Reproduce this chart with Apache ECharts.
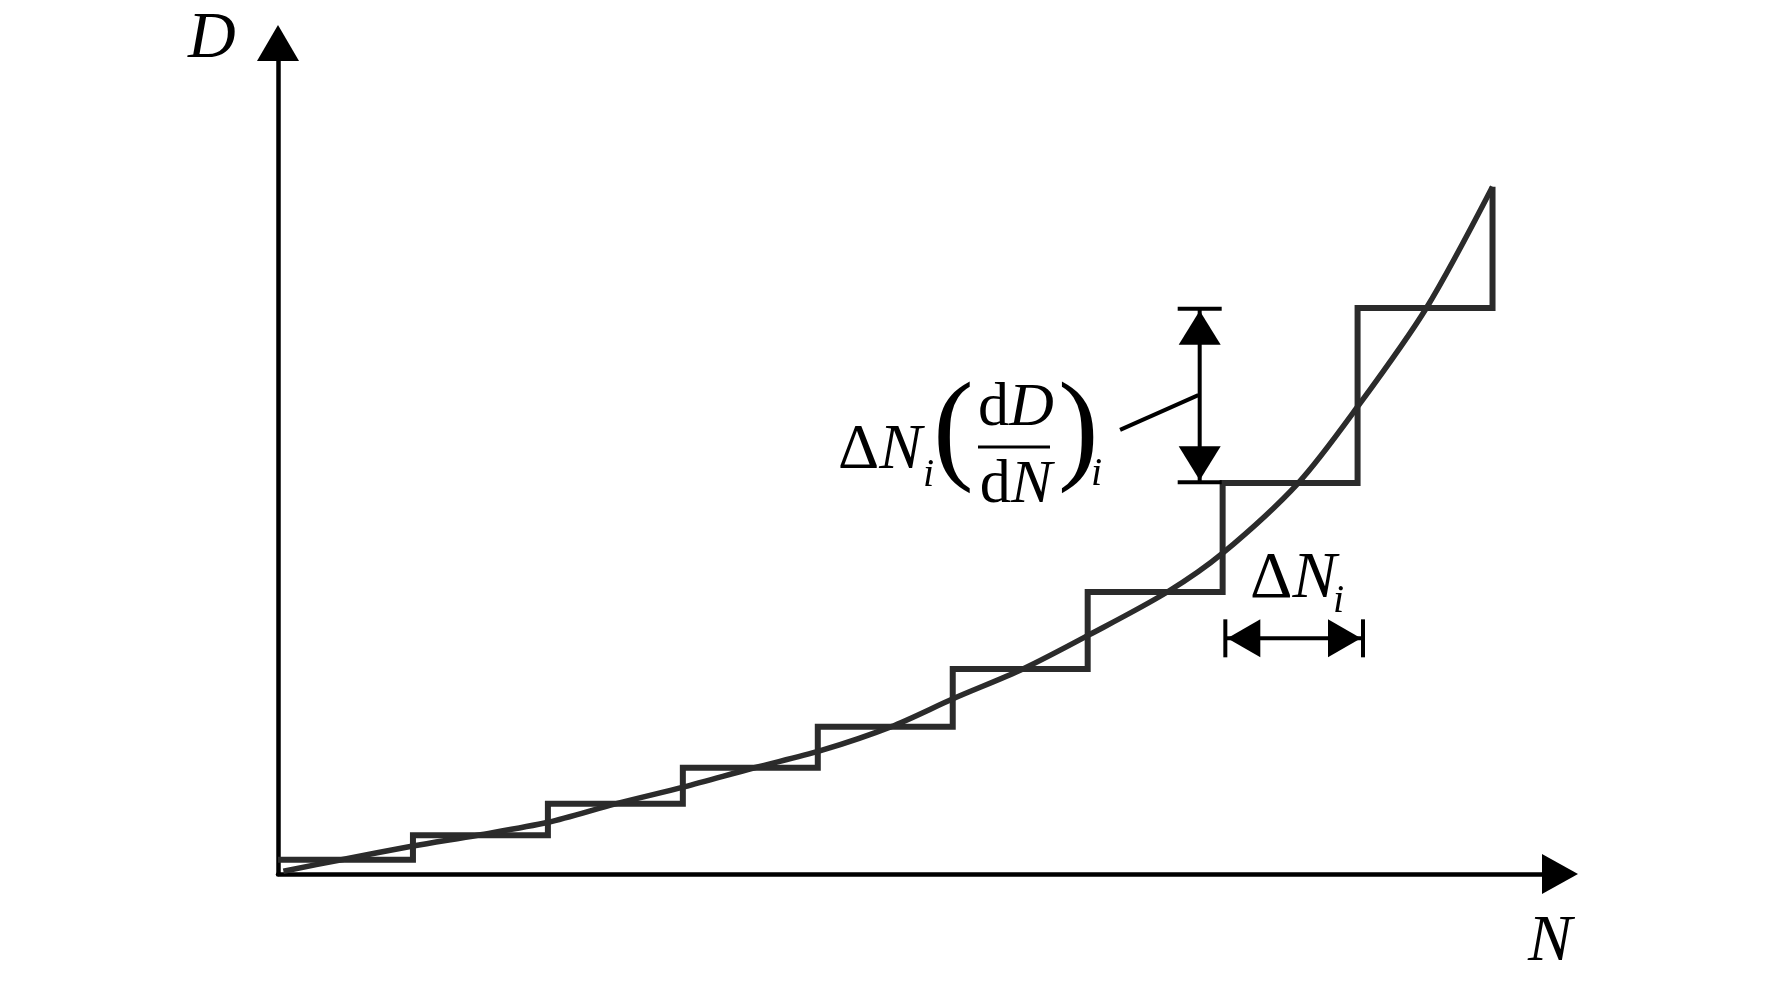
<!DOCTYPE html>
<html>
<head>
<meta charset="utf-8">
<script src="https://cdn.jsdelivr.net/npm/echarts@6/dist/echarts.min.js"></script>
<style>
  html, body { margin: 0; padding: 0; background: #fff; }
  #main { width: 1772px; height: 992px; }
</style>
</head>
<body>
<div id="main"></div>
<script>
// staircase: D held constant over each block of cycles ΔN_i
var stepN = [0, 1, 2, 3, 4, 5, 6, 7, 8, 9];
var stepD = [0.21, 0.57, 1.03, 1.56, 2.16, 3.01, 4.14, 5.74, 8.31, 10.09];

// continuous D(N) curve
var curveN = [0.04, 0.47, 1.0, 1.48, 2.0, 2.5, 3.01, 3.53, 4.02, 4.54, 5.01, 5.52, 6.01, 6.59, 7.0, 7.56, 8.0, 8.51, 9.0];
var curveD = [0.04, 0.21, 0.41, 0.57, 0.76, 1.03, 1.28, 1.56, 1.81, 2.16, 2.58, 3.01, 3.51, 4.14, 4.71, 5.74, 6.86, 8.31, 10.09];

// annotation segments [N1, D1, N2, D2]
var dimDelta = [6.83, 8.30, 6.83, 5.75];   // vertical ΔN_i(dD/dN)_i
var dimStep = [7.02, 3.46, 8.04, 3.46];    // horizontal ΔN_i
var leader = [6.24, 6.52, 6.82, 7.03];

var axisMaxN = 9.5;
var axisMaxD = 12.2;

var serif = '"Liberation Serif", "Times New Roman", serif';
var ink = '#2b2b2b';

var myChart = echarts.init(document.getElementById('main'));

function zip(a, b) {
  return a.map(function (v, i) { return [v, b[i]]; });
}

// arrows / bars drawn in pixel space from data coords
function renderAnno(params, api) {
  var kind = api.value(4);
  var p1 = api.coord([api.value(0), api.value(1)]);
  var p2 = api.coord([api.value(2), api.value(3)]);
  var st = { stroke: '#000', lineWidth: 4 };
  var kids = [{ type: 'line', shape: { x1: p1[0], y1: p1[1], x2: p2[0], y2: p2[1] }, style: st }];
  if (kind === 0) return { type: 'group', children: kids };

  var dx = p2[0] - p1[0], dy = p2[1] - p1[1];
  var len = Math.sqrt(dx * dx + dy * dy);
  var ux = dx / len, uy = dy / len, px = -uy, py = ux;
  var headL = kind === 1 ? 34 : 33;
  var headW = kind === 1 ? 21 : 19;
  var barW = kind === 1 ? 22 : 19;

  [[p1, 1], [p2, -1]].forEach(function (e) {
    var p = e[0], s = e[1];
    var tip = [p[0] + ux * s * 2, p[1] + uy * s * 2];
    var base = [tip[0] + ux * s * headL, tip[1] + uy * s * headL];
    kids.push({
      type: 'polygon',
      shape: { points: [tip, [base[0] + px * headW, base[1] + py * headW], [base[0] - px * headW, base[1] - py * headW]] },
      style: { fill: '#000' }
    });
    kids.push({
      type: 'line',
      shape: { x1: p[0] + px * barW, y1: p[1] + py * barW, x2: p[0] - px * barW, y2: p[1] - py * barW },
      style: st
    });
  });
  return { type: 'group', children: kids };
}

// text placed by left edge (or centre) and baseline
function txt(str, x, baseline, size, italic, align, rich) {
  var st = {
    text: str,
    font: (italic ? 'italic ' : '') + size + 'px ' + serif,
    fill: '#000',
    align: align || 'left',
    verticalAlign: 'middle'
  };
  if (rich) st.rich = rich;
  return { type: 'text', x: x, y: baseline - 0.3375 * size, style: st, z: 100 };
}

function richPair(size) {
  return {
    a: { fontFamily: serif, fontSize: size, fontStyle: 'normal', color: '#000' },
    b: { fontFamily: serif, fontSize: size, fontStyle: 'italic', color: '#000' }
  };
}

var option = {
  backgroundColor: '#fff',
  animation: false,
  grid: { left: 278, right: 212, top: 43, bottom: 118, containLabel: false, outerBoundsMode: 'none' },
  xAxis: {
    type: 'value', min: 0, max: axisMaxN,
    axisLine: { show: true, symbol: ['none', 'triangle'], symbolSize: [40, 36], lineStyle: { color: '#000', width: 4.5 } },
    axisTick: { show: false }, axisLabel: { show: false }, splitLine: { show: false }
  },
  yAxis: {
    type: 'value', min: 0, max: axisMaxD,
    axisLine: { show: true, symbol: ['none', 'triangle'], symbolSize: [42, 36], lineStyle: { color: '#000', width: 4.5 } },
    axisTick: { show: false }, axisLabel: { show: false }, splitLine: { show: false }
  },
  series: [
    {
      name: 'step', type: 'line', step: 'end', showSymbol: false,
      data: zip(stepN, stepD),
      lineStyle: { color: ink, width: 6, join: 'miter' },
      z: 3
    },
    {
      name: 'curve', type: 'line', smooth: 0.3, showSymbol: false,
      data: zip(curveN, curveD),
      lineStyle: { color: ink, width: 5.5 },
      z: 4
    },
    {
      name: 'anno', type: 'custom', clip: false,
      renderItem: renderAnno,
      encode: { x: [0, 2], y: [1, 3] },
      data: [dimDelta.concat([1]), dimStep.concat([2]), leader.concat([0])],
      z: 5
    }
  ],
  graphic: [
    txt('D', 188, 62, 66, true),
    txt('N', 1528, 965, 66, true),

    txt('{a|Δ}{b|N}', 838, 473, 64, false, 'left', richPair(64)),
    txt('i', 923, 489, 40, true),
    txt('(', 933, 476, 122, false),
    txt('{a|d}{b|D}', 1016, 430, 62, false, 'center', richPair(62)),
    { type: 'line', shape: { x1: 978, y1: 447, x2: 1050, y2: 447 }, style: { stroke: '#000', lineWidth: 3 }, z: 100 },
    txt('{a|d}{b|N}', 1016, 507, 62, false, 'center', richPair(62)),
    txt(')', 1058, 476, 122, false),
    txt('i', 1091, 488, 40, true),

    txt('{a|Δ}{b|N}', 1250, 602, 66, false, 'left', richPair(66)),
    txt('i', 1333, 615, 40, true)
  ]
};

myChart.setOption(option);
</script>
</body>
</html>
